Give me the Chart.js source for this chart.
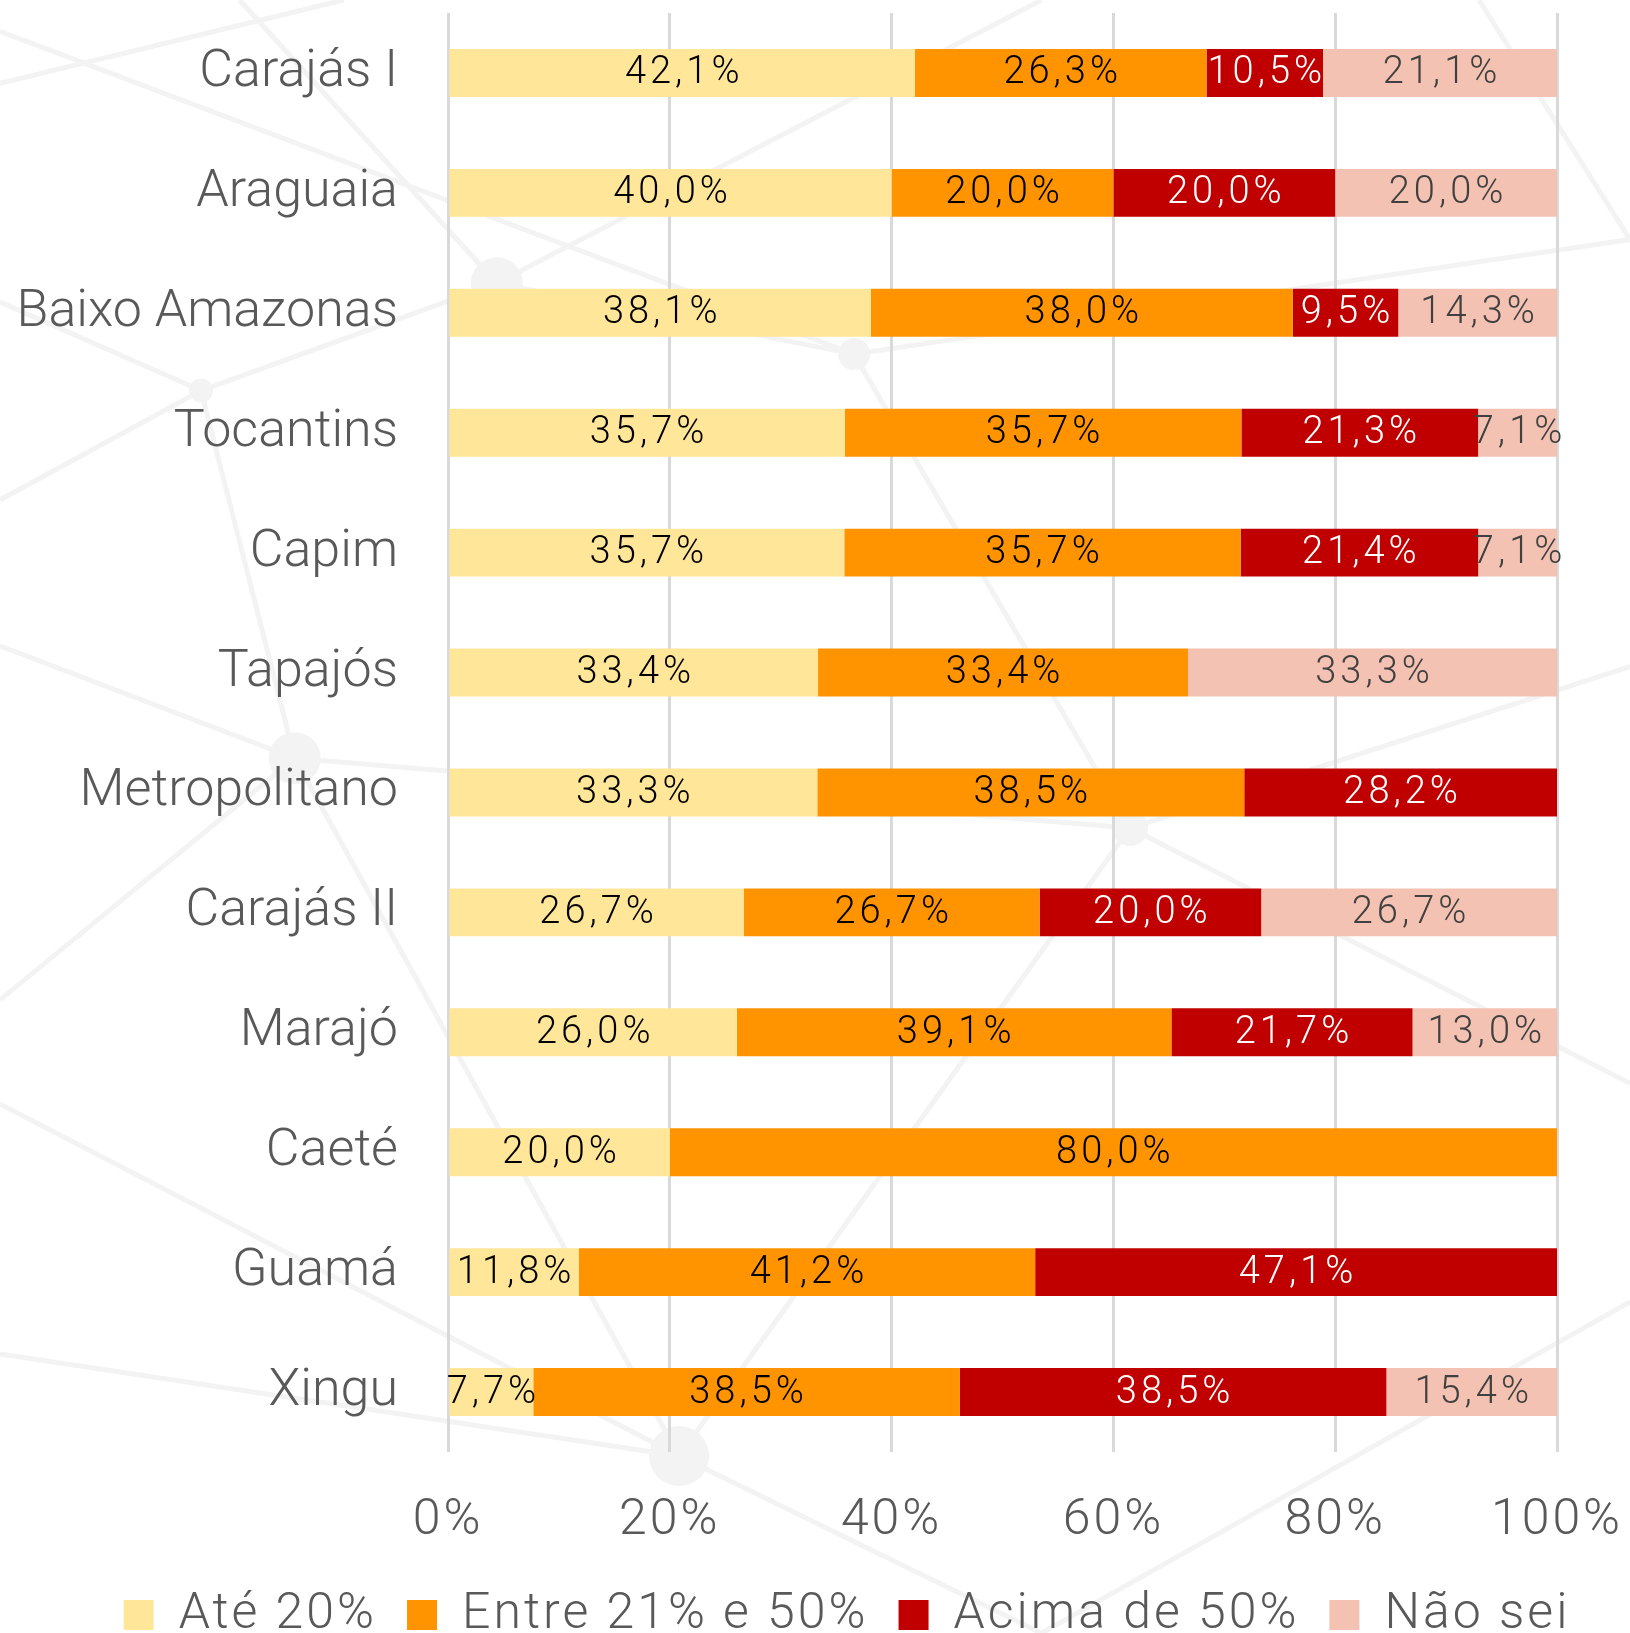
<!DOCTYPE html>
<html>
<head>
<meta charset="utf-8">
<script src="https://cdn.jsdelivr.net/npm/chart.js@4.4.1/dist/chart.umd.min.js"></script>
<style>
  html, body { margin: 0; padding: 0; background: #fff; }
  #wrap { width: 1630px; height: 1633px; position: relative; }
</style>
</head>
<body>
<div id="wrap"><canvas id="myChart"></canvas></div>
<script>
var regioes = ['Carajás I', 'Araguaia', 'Baixo Amazonas', 'Tocantins', 'Capim', 'Tapajós',
               'Metropolitano', 'Carajás II', 'Marajó', 'Caeté', 'Guamá', 'Xingu'];
var ate20      = [42.1, 40.0, 38.1, 35.7, 35.7, 33.4, 33.3, 26.7, 26.0, 20.0, 11.8, 7.7];
var entre21e50 = [26.3, 20.0, 38.0, 35.7, 35.7, 33.4, 38.5, 26.7, 39.1, 80.0, 41.2, 38.5];
var acima50    = [10.5, 20.0, 9.5, 21.3, 21.4, 0, 28.2, 20.0, 21.7, 0, 47.1, 38.5];
var naoSei     = [21.1, 20.0, 14.3, 7.1, 7.1, 33.3, 0, 26.7, 13.0, 0, 0, 15.4];
var xTicks = [0, 20, 40, 60, 80, 100];

var series = [
    { label: 'Até 20%', raw: ate20, color: '#FFE699', text: '#000000' },
    { label: 'Entre 21% e 50%', raw: entre21e50, color: '#FF9400', text: '#000000' },
    { label: 'Acima de 50%', raw: acima50, color: '#C00000', text: '#FFFFFF' },
    { label: 'Não sei', raw: naoSei, color: '#F4C2B2', text: '#404040' }
];

// each bar is a 100% stack, so scale each row to its own total
var totals = regioes.map(function (r, i) {
    return ate20[i] + entre21e50[i] + acima50[i] + naoSei[i];
});

var datasets = series.map(function (s) {
    return {
        label: s.label,
        data: s.raw.map(function (v, i) { return v / totals[i] * 100; }),
        raw: s.raw,
        textColor: s.text,
        backgroundColor: s.color,
        borderWidth: 0,
        barPercentage: 0.4,
        categoryPercentage: 1.0
    };
});

function fmt(v) {
    return v.toFixed(1).replace('.', ',') + '%';
}

var espaco = '3px';

var fundo = {
    id: 'fundo',
    beforeUpdate: function (chart) { chart.ctx.letterSpacing = espaco; },
    beforeLayout: function (chart) { chart.ctx.letterSpacing = espaco; },
    afterLayout: function (chart) {
        // legend sits lower and a bit to the right in the original
        var lg = chart.legend;
        var dy = 1560 - lg.top;
        lg.top += dy; lg.bottom += dy;
        lg.left += 32; lg.right += 32;
        var y = chart.scales.y;
        if (!y._semEspaco) {
            var orig = y.drawLabels;
            y.drawLabels = function (area) {
                this.ctx.save();
                this.ctx.letterSpacing = '0px';
                orig.call(this, area);
                this.ctx.restore();
            };
            y._semEspaco = true;
        }
    },
    // faint network drawing behind the chart
    beforeDraw: function (chart) {
        var ctx = chart.ctx;
        ctx.save();
        ctx.fillStyle = '#ffffff';
        ctx.fillRect(0, 0, chart.width, chart.height);
        var k = 1630 / 1565;
        var n = [[477, 272], [193, 375], [820, 340], [283, 728], [1085, 795], [652, 1398]];
        var linhas = [
            [0, 80, 330, 0], [230, 0, 477, 272], [477, 272, 193, 375], [477, 272, 820, 340],
            [477, 272, 1000, 0], [193, 375, 0, 290], [193, 375, 283, 728], [0, 620, 283, 728],
            [283, 728, 1085, 795], [283, 728, 652, 1398], [283, 728, 0, 960], [820, 340, 1085, 795],
            [820, 340, 1565, 230], [1085, 795, 1565, 640], [1085, 795, 652, 1398], [652, 1398, 0, 1300],
            [652, 1398, 1000, 1568], [1085, 795, 1565, 1040], [1565, 1250, 1000, 1568],
            [0, 1060, 652, 1398], [1420, 0, 1565, 230], [820, 340, 0, 30], [193, 375, 0, 480]
        ];
        ctx.strokeStyle = '#f3f3f3';
        ctx.lineWidth = 5;
        linhas.forEach(function (l) {
            ctx.beginPath();
            ctx.moveTo(l[0] * k, l[1] * k);
            ctx.lineTo(l[2] * k, l[3] * k);
            ctx.stroke();
        });
        ctx.fillStyle = '#f3f3f3';
        var raios = [26, 12, 16, 26, 18, 30];
        n.forEach(function (p, i) {
            ctx.beginPath();
            ctx.arc(p[0] * k, p[1] * k, raios[i], 0, Math.PI * 2);
            ctx.fill();
        });
        ctx.restore();
        ctx.letterSpacing = espaco;
    }
};

// value labels in the middle of each segment
var rotulos = {
    id: 'rotulos',
    afterDatasetsDraw: function (chart) {
        var ctx = chart.ctx;
        ctx.save();
        ctx.font = '300 38px Roboto';
        ctx.letterSpacing = '4px';
        ctx.textAlign = 'center';
        ctx.textBaseline = 'middle';
        chart.data.datasets.forEach(function (ds, di) {
            chart.getDatasetMeta(di).data.forEach(function (bar, i) {
                var v = ds.raw[i];
                if (!v) return;
                ctx.fillStyle = ds.textColor;
                ctx.fillText(fmt(v), (bar.x + bar.base) / 2 + 2, bar.y + 1);
            });
        });
        ctx.restore();
    }
};

var ctx = document.getElementById('myChart').getContext('2d');
var myChart = new Chart(ctx, {
    type: 'bar',
    data: { labels: regioes, datasets: datasets },
    options: {
        indexAxis: 'y',
        responsive: true,
        maintainAspectRatio: false,
        animation: false,
        layout: { padding: { left: 0, right: 0, top: 13, bottom: -9 } },
        plugins: {
            tooltip: { enabled: false },
            legend: {
                position: 'bottom',
                labels: {
                    color: '#595959',
                    font: { family: 'Roboto', size: 50, weight: '300' },
                    boxWidth: 30,
                    boxHeight: 30,
                    padding: 30
                }
            }
        },
        scales: {
            x: {
                stacked: true,
                min: 0,
                max: 100,
                afterBuildTicks: function (s) {
                    s.ticks = xTicks.map(function (v) { return { value: v }; });
                },
                afterFit: function (s) {
                    s.height = 100;
                    s.paddingLeft = 0;
                    s.paddingRight = 73;
                },
                grid: { color: '#D9D9D9', lineWidth: 3, drawTicks: false },
                border: { display: false },
                ticks: {
                    color: '#595959',
                    padding: 39,
                    maxRotation: 0,
                    font: { family: 'Roboto', size: 50, weight: '300' },
                    callback: function (v) { return v + '%'; }
                }
            },
            y: {
                stacked: true,
                afterFit: function (s) {
                    s.width = 448;
                    s.paddingTop = 0;
                    s.paddingBottom = 0;
                },
                grid: { display: false, drawTicks: false },
                border: { display: false },
                ticks: {
                    color: '#595959',
                    padding: 50,
                    font: { family: 'Roboto', size: 52, weight: '300' }
                }
            }
        }
    },
    plugins: [fundo, rotulos]
});
</script>
</body>
</html>
